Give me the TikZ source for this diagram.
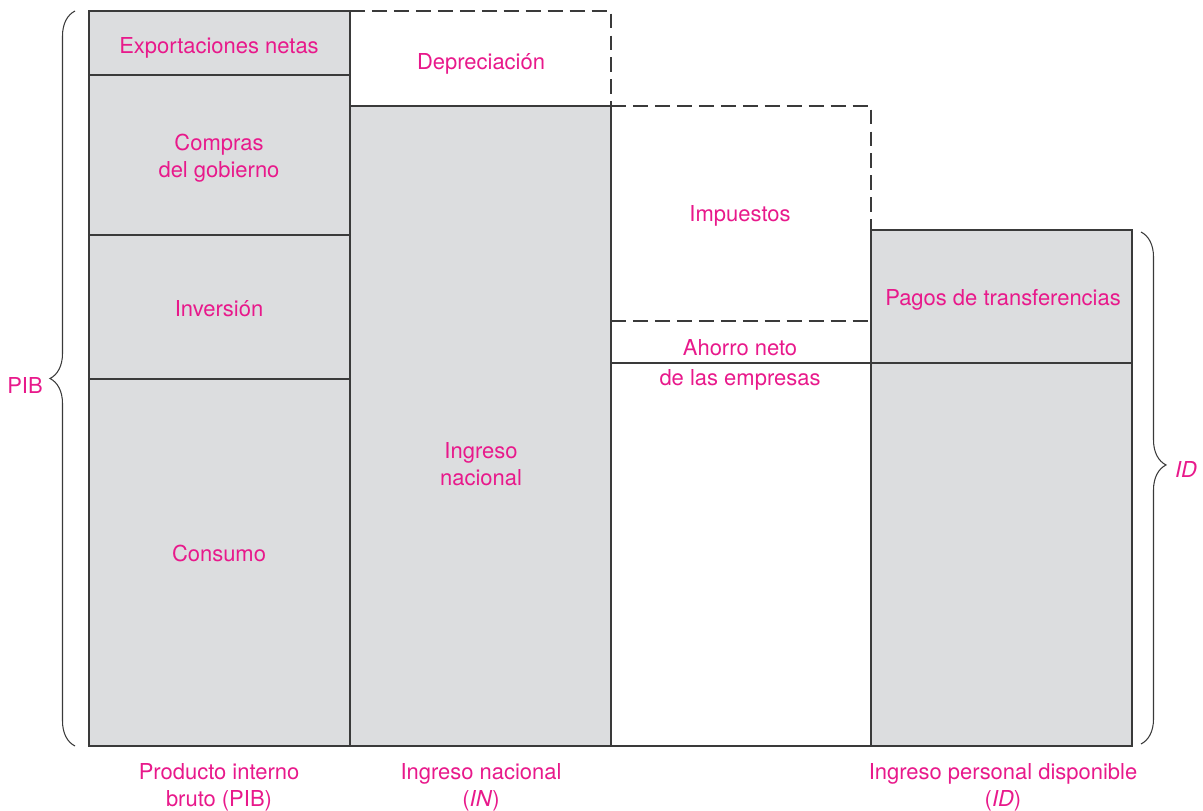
\documentclass[tikz,border=0pt]{standalone}
\usepackage{fontspec}
\setmainfont{TeX Gyre Heros}
\usepackage{tikz}
\usetikzlibrary{decorations.pathreplacing}
\definecolor{cPink}{HTML}{E8198B}
\definecolor{cGrey}{HTML}{DCDDDF}
\definecolor{cLine}{HTML}{3A3A3A}

\begin{document}
\begin{tikzpicture}[
  x=0.02cm, y=-0.02cm,
  font=\fontsize{12.5}{15.5}\selectfont,
  bar/.style={draw=cLine, fill=cGrey, line width=0.6pt},
  rule/.style={draw=cLine, line width=0.6pt},
  est/.style={draw=cLine, line width=0.6pt, dash pattern=on 8.5pt off 4pt},
  lbl/.style={text=cPink, align=center, inner sep=0pt},
  brc/.style={draw=cLine, line width=0.6pt, decorate,
              decoration={brace, amplitude=0.5cm, #1}},
  brc/.default={aspect=0.5},
]
\useasboundingbox (0,0) rectangle (1203,811);

\draw[bar] (89,11) rectangle (350,746);
\draw[rule] (89,75) -- (350,75);
\draw[rule] (89,235) -- (350,235);
\draw[rule] (89,379) -- (350,379);

\draw[bar] (350,106) rectangle (611,746);
\draw[est] (350,11) -- (611,11) -- (611,106);

\draw[est] (611,106) -- (871,106) -- (871,230);
\draw[est] (611,321) -- (871,321);
\draw[rule] (611,363) -- (871,363);
\draw[rule] (611,746) -- (871,746);

\draw[bar] (871,230) rectangle (1132,746);
\draw[rule] (871,363) -- (1132,363);

\node[lbl] (exp) at (219,48) {Exportaciones netas};
\node[lbl] (gob) at (219,158) {Compras\\del gobierno};
\node[lbl] (inv) at (219,309) {Inversión};
\node[lbl] (cons) at (219,553) {Consumo};
\node[lbl] (dep) at (481,64) {Depreciación};
\node[lbl] (ing) at (481,464) {Ingreso\\nacional};
\node[lbl] (imp) at (740,216) {Impuestos};
\node[lbl] (aho) at (740,348) {Ahorro neto};
\node[lbl] (emp) at (740,380) {de las empresas};
\node[lbl] (pag) at (1003,300) {Pagos de transferencias};

\node[lbl] (pib) at (219,787) {Producto interno\\bruto (PIB)};
\node[lbl] (in) at (481,787) {Ingreso nacional\\(\textit{IN})};
\node[lbl] (id) at (1003,787) {Ingreso personal disponible\\(\textit{ID})};

\coordinate (lbot) at (75,746);
\coordinate (ltop) at (75,11);
\coordinate (rtop) at (1141,232);
\coordinate (rbot) at (1141,744);
\draw[brc] (lbot) -- (ltop);
\draw[brc={aspect=0.455}] (rtop) -- (rbot);
\node[lbl] (pibb) at (25,385) {PIB};
\node[lbl] (idb) at (1186,469) {\textit{ID}};
\end{tikzpicture}
\end{document}
